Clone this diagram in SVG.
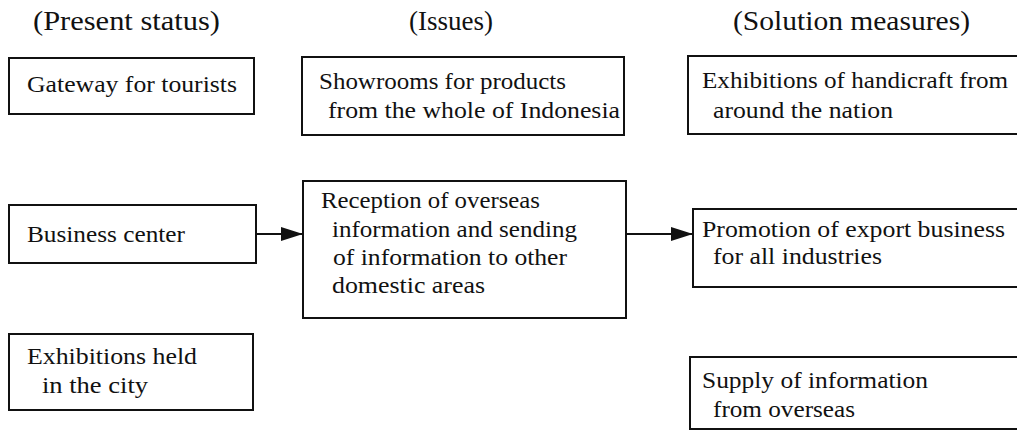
<svg xmlns="http://www.w3.org/2000/svg" width="1017" height="440" viewBox="0 0 1017 440">
  <style>
    .box { fill: #ffffff; stroke: #111111; stroke-width: 2; }
    .lbl { font-family: "Times New Roman", "Liberation Serif", serif; font-size: 24px; fill: #111111; }
    .hdr { font-family: "Times New Roman", "Liberation Serif", serif; font-size: 28px; fill: #111111; }
    .link { stroke: #111111; stroke-width: 2; fill: none; }
  </style>
  <defs>
    <marker id="head" markerUnits="userSpaceOnUse" markerWidth="22" markerHeight="14" viewBox="0 0 22 14" refX="22" refY="7" orient="auto">
      <path d="M0,0 L22,7 L0,14 z" fill="#111111"/>
    </marker>
  </defs>
  <rect width="1017" height="440" fill="#ffffff"/>

  <!-- column headings -->
  <g id="headings">
    <text class="hdr" x="33" y="30" textLength="187" lengthAdjust="spacingAndGlyphs">(Present status)</text>
    <text class="hdr" x="409" y="30" textLength="84" lengthAdjust="spacingAndGlyphs">(Issues)</text>
    <text class="hdr" x="733" y="30" textLength="237" lengthAdjust="spacingAndGlyphs">(Solution measures)</text>
  </g>

  <!-- present status -->
  <g id="gateway">
    <rect class="box" x="9" y="58" width="245" height="56"/>
    <text class="lbl" x="27" y="92" textLength="210" lengthAdjust="spacingAndGlyphs">Gateway for tourists</text>
  </g>
  <g id="business-center">
    <rect class="box" x="9" y="205" width="247" height="58"/>
    <text class="lbl" x="27" y="242" textLength="158" lengthAdjust="spacingAndGlyphs">Business center</text>
  </g>
  <g id="exhibitions-city">
    <rect class="box" x="9" y="334" width="244" height="76"/>
    <text class="lbl" x="27" y="364" textLength="170" lengthAdjust="spacingAndGlyphs">Exhibitions held</text>
    <text class="lbl" x="42" y="393" textLength="106" lengthAdjust="spacingAndGlyphs">in the city</text>
  </g>

  <!-- issues -->
  <g id="showrooms">
    <rect class="box" x="302" y="57" width="322" height="78"/>
    <text class="lbl" x="319" y="89" textLength="247" lengthAdjust="spacingAndGlyphs">Showrooms for products</text>
    <text class="lbl" x="328" y="118" textLength="292" lengthAdjust="spacingAndGlyphs">from the whole of Indonesia</text>
  </g>
  <g id="reception">
    <rect class="box" x="303" y="181" width="323" height="137"/>
    <text class="lbl" x="321" y="208" textLength="219" lengthAdjust="spacingAndGlyphs">Reception of overseas</text>
    <text class="lbl" x="332" y="237" textLength="245" lengthAdjust="spacingAndGlyphs">information and sending</text>
    <text class="lbl" x="333" y="265" textLength="234" lengthAdjust="spacingAndGlyphs">of information to other</text>
    <text class="lbl" x="332" y="293" textLength="153" lengthAdjust="spacingAndGlyphs">domestic areas</text>
  </g>

  <!-- solution measures -->
  <g id="handicraft">
    <rect class="box" x="688" y="56" width="340" height="78"/>
    <text class="lbl" x="702" y="88" textLength="306" lengthAdjust="spacingAndGlyphs">Exhibitions of handicraft from</text>
    <text class="lbl" x="713" y="118" textLength="180" lengthAdjust="spacingAndGlyphs">around the nation</text>
  </g>
  <g id="export-promotion">
    <rect class="box" x="693" y="209" width="335" height="78"/>
    <text class="lbl" x="702" y="237" textLength="303" lengthAdjust="spacingAndGlyphs">Promotion of export business</text>
    <text class="lbl" x="713" y="264" textLength="169" lengthAdjust="spacingAndGlyphs">for all industries</text>
  </g>
  <g id="overseas-info">
    <rect class="box" x="690" y="357" width="338" height="72"/>
    <text class="lbl" x="702" y="388" textLength="226" lengthAdjust="spacingAndGlyphs">Supply of information</text>
    <text class="lbl" x="713" y="417" textLength="142" lengthAdjust="spacingAndGlyphs">from overseas</text>
  </g>

  <!-- connectors -->
  <g id="connectors">
    <line class="link" x1="257" y1="234" x2="303" y2="234" marker-end="url(#head)"/>
    <line class="link" x1="627" y1="234" x2="693" y2="234" marker-end="url(#head)"/>
  </g>
</svg>
